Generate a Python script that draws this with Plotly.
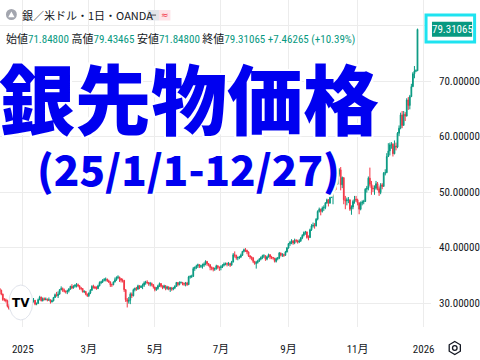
import pandas as pd
import plotly.graph_objects as go

# ---------------- data (XAGUSD daily, OANDA) ----------------
dates = pd.bdate_range("2024-12-11", "2025-12-26")
first_open = 32.6
close = [
    32.3, 31.6, 30.6,
    30.6, 30.4, 29.4, 29.0, 29.5,
    29.7, 29.6, 29.6, 30.0, 29.4,
    29.0, 28.9, 29.3, 29.9, 29.7,
    30.0, 30.1, 29.9, 30.2, 30.5,
    29.8, 29.9, 30.6, 31.1, 30.4,
    30.8, 30.6, 30.7, 30.5, 30.6,
    30.2, 30.4, 31.0, 31.5, 31.3,
    31.6, 32.4, 32.6, 32.3, 32.1,
    32.0, 32.2, 32.5, 33.0, 32.7,
    33.0, 33.2, 33.3, 33.1, 32.7,
    32.6, 32.0, 32.1, 31.6, 31.3,
    31.8, 32.3, 33.0, 32.9, 32.7,
    32.6, 33.1, 33.7, 33.8, 34.1,
    34.2, 34.3, 34.0, 33.8, 33.3,
    33.3, 33.8, 34.2, 34.6, 34.7,
    34.4, 34.1, 34.1, 32.4, 30.6,
    30.3, 30.5, 31.6, 31.3, 32.4,
    32.6, 32.5, 33.1, 32.8, 33.0,
    33.2, 33.6, 33.8, 33.7, 33.4,
    33.5, 33.3, 32.9, 32.4, 32.6,
    33.1, 33.5, 33.0, 32.8, 33.1,
    32.6, 32.9, 32.5, 32.7, 32.5,
    32.7, 33.0, 33.7, 33.3, 33.7,
    33.7, 33.5, 33.4, 33.6, 33.3,
    34.7, 34.8, 34.8, 36.2, 36.4,
    36.7, 36.9, 36.6, 36.7, 36.8,
    37.0, 37.5, 37.1, 36.9, 36.4,
    36.3, 36.1, 36.2, 36.7, 36.4,
    36.4, 36.5, 36.8, 37.0, 37.1,
    37.0, 37.1, 36.8, 37.4, 38.7,
    38.6, 38.1, 38.2, 38.3, 38.6,
    39.3, 39.6, 39.5, 39.2, 38.5,
    38.3, 38.1, 37.5, 37.1, 37.3,
    37.6, 37.9, 38.2, 38.5, 38.5,
    37.9, 38.3, 38.7, 38.3, 38.2,
    38.1, 37.5, 38.0, 38.1, 39.0,
    38.6, 38.7, 38.6, 39.2, 39.9,
    40.7, 40.9, 41.2, 40.8, 41.3,
    41.2, 41.0, 41.2, 41.7, 42.2,
    42.7, 42.8, 41.8, 41.8, 43.2,
    43.9, 44.0, 43.9, 45.1, 46.5,
    46.9, 46.5, 47.1, 47.2, 48.0,
    48.6, 48.0, 49.0, 49.8, 50.2,
    52.0, 51.4, 53.2, 54.0, 51.3,
    52.6, 48.6, 48.4, 48.6, 48.6,
    46.9, 47.3, 48.3, 48.7, 48.6,
    48.0, 46.9, 48.0, 48.2, 48.3,
    50.5, 50.7, 52.5, 51.4, 50.7,
    50.6, 50.7, 51.5, 50.6, 49.9,
    51.3, 51.0, 53.4, 53.5, 56.4,
    57.4, 58.5, 58.6, 56.9, 58.3,
    58.1, 60.6, 61.5, 63.9, 62.0,
    64.0, 63.7, 66.6, 65.6, 67.2,
    69.0, 71.3, 71.8, 71.848, 79.31065,
]
high = [
    32.7, 32.4, 31.7,
    30.9, 30.8, 30.6, 29.8, 29.7,
    30.2, 29.9, 29.7, 30.2, 30.1,
    29.5, 29.2, 29.5, 30.1, 30.2,
    30.3, 30.4, 30.3, 30.4, 30.9,
    30.5, 30.1, 30.8, 31.3, 31.1,
    31.0, 31.0, 31.0, 30.8, 31.0,
    30.6, 30.6, 31.1, 31.7, 32.0,
    32.1, 32.5, 33.0, 32.8, 32.6,
    32.3, 32.4, 32.7, 33.1, 33.4,
    33.2, 33.4, 33.6, 33.5, 33.2,
    32.9, 32.7, 32.3, 32.1, 31.7,
    31.9, 32.5, 33.2, 33.3, 33.1,
    33.0, 33.3, 33.9, 34.0, 34.3,
    34.5, 34.6, 34.4, 34.2, 33.9,
    33.5, 33.9, 34.6, 34.8, 35.0,
    34.7, 34.5, 34.4, 34.1, 32.5,
    30.9, 31.1, 31.9, 31.9, 32.6,
    32.8, 32.9, 33.3, 33.2, 33.2,
    33.5, 33.9, 34.0, 34.1, 33.8,
    33.8, 33.7, 33.4, 32.9, 32.9,
    33.3, 33.7, 33.6, 33.2, 33.3,
    33.2, 33.1, 33.0, 32.9, 32.9,
    32.9, 33.2, 33.8, 33.7, 33.9,
    33.9, 33.8, 33.7, 33.8, 33.8,
    34.9, 35.0, 35.1, 36.5, 36.6,
    36.9, 37.1, 37.0, 36.9, 37.1,
    37.3, 37.7, 37.5, 37.2, 37.0,
    36.6, 36.5, 36.4, 36.9, 36.8,
    36.6, 36.8, 37.0, 37.3, 37.3,
    37.3, 37.4, 37.2, 37.6, 39.0,
    39.3, 38.7, 38.4, 38.5, 38.9,
    39.4, 39.8, 39.9, 39.6, 39.3,
    38.6, 38.4, 38.3, 37.6, 37.6,
    37.8, 38.1, 38.4, 38.7, 38.8,
    38.6, 38.5, 38.9, 38.8, 38.5,
    38.3, 38.1, 38.2, 38.3, 39.2,
    39.1, 39.0, 38.9, 39.4, 40.1,
    40.8, 41.2, 41.5, 41.3, 41.6,
    41.5, 41.4, 41.5, 41.9, 42.4,
    42.9, 43.0, 42.9, 42.2, 43.4,
    44.2, 44.5, 44.4, 45.3, 46.7,
    47.2, 47.0, 47.4, 47.6, 48.2,
    48.8, 48.7, 49.2, 51.2, 51.0,
    52.3, 53.6, 53.5, 54.3, 54.5,
    52.8, 52.6, 49.3, 49.0, 49.1,
    48.5, 47.6, 48.6, 49.3, 49.3,
    48.8, 48.2, 48.3, 48.5, 48.6,
    50.7, 51.1, 52.8, 54.4, 52.0,
    51.2, 51.2, 52.0, 51.8, 51.0,
    51.6, 51.6, 53.6, 54.1, 57.0,
    58.8, 58.9, 59.0, 58.8, 59.3,
    58.9, 60.8, 62.0, 64.3, 64.6,
    64.6, 64.4, 66.9, 67.1, 67.5,
    69.5, 71.6, 72.7, 72.1, 79.43465,
]
low = [
    32.0, 31.4, 30.4,
    30.3, 30.1, 29.2, 28.8, 28.6,
    29.4, 29.4, 29.5, 29.5, 29.3,
    28.8, 28.7, 28.9, 29.2, 29.6,
    29.6, 29.8, 29.7, 29.9, 30.1,
    29.6, 29.6, 29.9, 30.5, 30.3,
    30.3, 30.5, 30.5, 30.3, 30.4,
    29.9, 30.1, 30.3, 30.9, 31.2,
    30.9, 31.5, 32.3, 32.0, 31.9,
    31.7, 31.6, 31.9, 32.4, 32.5,
    32.6, 32.8, 32.8, 32.9, 32.4,
    32.3, 31.9, 31.8, 31.4, 31.1,
    31.1, 31.6, 32.2, 32.6, 32.5,
    32.4, 32.5, 33.0, 33.4, 33.6,
    33.9, 33.9, 33.8, 33.6, 32.9,
    32.9, 33.2, 33.7, 34.0, 34.3,
    33.8, 33.7, 33.7, 32.0, 30.2,
    29.2, 29.9, 29.8, 30.9, 31.2,
    32.1, 32.2, 32.4, 32.5, 32.7,
    32.5, 32.9, 33.3, 33.4, 33.1,
    33.0, 33.0, 32.6, 32.1, 32.2,
    32.4, 32.9, 32.8, 32.5, 32.6,
    32.3, 32.4, 32.3, 32.0, 32.2,
    32.3, 32.5, 32.9, 33.0, 33.2,
    33.5, 33.2, 33.1, 33.0, 33.1,
    33.3, 34.4, 34.5, 34.7, 35.8,
    36.1, 36.3, 36.3, 36.3, 36.2,
    36.5, 36.8, 36.7, 36.6, 35.9,
    35.9, 35.7, 35.8, 36.0, 36.1,
    35.8, 35.9, 36.3, 36.6, 36.8,
    36.6, 36.7, 36.5, 36.8, 37.3,
    38.2, 37.8, 37.7, 37.9, 38.1,
    38.5, 39.1, 39.2, 38.8, 38.3,
    37.9, 37.7, 37.2, 36.9, 36.2,
    37.1, 37.4, 37.7, 37.9, 38.1,
    37.6, 37.7, 38.2, 37.9, 37.9,
    37.8, 37.3, 37.3, 37.7, 37.9,
    38.4, 38.3, 38.3, 38.5, 39.1,
    39.8, 40.3, 40.6, 40.5, 40.6,
    40.9, 40.7, 40.8, 41.0, 41.5,
    42.0, 42.3, 41.6, 41.3, 41.7,
    43.0, 43.6, 43.4, 43.8, 44.9,
    46.3, 45.8, 46.3, 46.6, 46.9,
    47.9, 47.4, 47.9, 49.0, 47.8,
    50.0, 50.4, 51.3, 52.8, 50.3,
    50.7, 47.8, 46.9, 47.6, 48.0,
    46.6, 45.9, 46.9, 47.9, 48.2,
    47.6, 46.0, 46.7, 47.6, 47.8,
    48.2, 49.9, 50.3, 51.0, 49.5,
    50.0, 49.5, 50.4, 50.3, 49.3,
    49.6, 50.5, 51.0, 53.0, 53.4,
    56.3, 56.6, 57.8, 56.4, 56.8,
    57.5, 57.9, 60.1, 61.3, 61.5,
    62.0, 62.8, 63.6, 64.8, 64.9,
    67.1, 68.9, 70.5, 71.6, 71.848,
]
open_ = [first_open] + close[:-1]

x_tickvals = ["2025-01-01", "2025-03-03", "2025-05-01", "2025-07-01",
              "2025-09-01", "2025-11-03", "2026-01-01"]
x_ticktext = ["2025", "3月", "5月", "7月", "9月", "11月", "2026"]
y_tickvals = [30, 40, 50, 60, 70, 80]
y_ticktext = ["30.00000", "40.00000", "50.00000", "60.00000", "70.00000", ""]

title_text = "銀先物価格"
period_text = "(25/1/1-12/27)"
symbol_text = "銀／米ドル・1日・OANDA"

# ---------------- styling ----------------
UP = "#089981"
DOWN = "#f23645"
GRID = "#ececec"
TXT = "#131722"
BLUE = "#0000f0"
NARROW = "Liberation Sans Narrow, Arial Narrow, Roboto Condensed, Liberation Sans, Noto Sans CJK JP, sans-serif"
JP = "Noto Sans CJK JP, Noto Sans, sans-serif"

PW, PH = 435.0, 327.0


def X(px):
    return px / PW


def Y(py):
    return 1 - py / PH


fig = go.Figure(go.Candlestick(
    x=dates, open=open_, high=high, low=low, close=close,
    increasing=dict(line=dict(color=UP, width=1), fillcolor=UP),
    decreasing=dict(line=dict(color=DOWN, width=1), fillcolor=DOWN),
    whiskerwidth=0, showlegend=False, hoverinfo="skip",
))

fig.update_layout(
    width=480, height=360,
    margin=dict(l=0, r=45, t=0, b=33),
    paper_bgcolor="white", plot_bgcolor="white",
    showlegend=False,
    xaxis=dict(
        type="date",
        rangebreaks=[dict(bounds=["sat", "mon"])],
        range=["2024-12-11 04:00", "2026-01-07 19:00"],
        rangeslider=dict(visible=False),
        tickmode="array", tickvals=x_tickvals, ticktext=x_ticktext,
        showgrid=True, gridcolor=GRID, gridwidth=1,
        zeroline=False, showline=False, ticks="",
        tickfont=dict(family=NARROW, size=11, color=TXT),
        ticklabelstandoff=14,
    ),
    yaxis=dict(
        side="right",
        range=[25.68, 84.6],
        tickmode="array", tickvals=y_tickvals, ticktext=y_ticktext,
        showgrid=True, gridcolor=GRID, gridwidth=1,
        zeroline=False, showline=False, ticks="",
        tickfont=dict(family=NARROW, size=11, color=TXT),
        ticklabelstandoff=7,
    ),
)

shapes = []
annotations = []

# header: symbol icon
shapes.append(dict(type="circle", xref="paper", yref="paper",
                   x0=X(6), x1=X(17), y0=Y(20), y1=Y(9),
                   fillcolor="#a3a6af", line=dict(width=0), layer="above"))
shapes.append(dict(type="path", xref="paper", yref="paper",
                   path=f"M {X(8.3)} {Y(17.2)} L {X(11.5)} {Y(11.5)} L {X(14.7)} {Y(17.2)} Z",
                   fillcolor="white", line=dict(width=0), layer="above"))
annotations.append(dict(text=symbol_text, xref="paper", yref="paper",
                        x=X(20), y=Y(15), xanchor="left", yanchor="middle",
                        showarrow=False, font=dict(family=JP, size=11, color=TXT)))
# header pills
shapes.append(dict(type="rect", xref="paper", yref="paper",
                   x0=X(149), x1=X(160.5), y0=Y(20.5), y1=Y(10),
                   fillcolor="#e3e5ea", line=dict(width=0), layer="above"))
shapes.append(dict(type="rect", xref="paper", yref="paper",
                   x0=X(152), x1=X(157.5), y0=Y(16), y1=Y(14.3),
                   fillcolor="#8a8e97", line=dict(width=0), layer="above"))
shapes.append(dict(type="rect", xref="paper", yref="paper",
                   x0=X(160.5), x1=X(172), y0=Y(20.5), y1=Y(10),
                   fillcolor="#fde3e7", line=dict(width=0), layer="above"))
annotations.append(dict(text="≈", xref="paper", yref="paper",
                        x=X(166.2), y=Y(15), xanchor="center", yanchor="middle",
                        showarrow=False, font=dict(family="DejaVu Sans", size=9, color=DOWN)))

# OHLC line
o, h, l, c = open_[-1], high[-1], low[-1], close[-1]
chg = c - close[-2]
pct = chg / close[-2] * 100


def val(v):
    return f'<span style="color:{UP}">{v}</span>'


ohlc = (f"始値{val(f'{o:.5f}')} 高値{val(f'{h:.5f}')} 安値{val(f'{l:.5f}')} "
        f"終値{val(f'{c:.5f}')} {val(f'{chg:+.5f} ({pct:+.2f}%)')}")
annotations.append(dict(text=ohlc, xref="paper", yref="paper",
                        x=X(4), y=Y(38.5), xanchor="left", yanchor="middle",
                        showarrow=False, font=dict(family=NARROW, size=11, color=TXT)))

# big title overlays
outline = ("2px 2px 0 #fff, -2px 2px 0 #fff, 2px -2px 0 #fff, -2px -2px 0 #fff, "
           "0 2px 0 #fff, 0 -2px 0 #fff, 2px 0 0 #fff, -2px 0 0 #fff")
annotations.append(dict(text=title_text, xref="paper", yref="paper",
                        x=X(191), y=Y(96), xanchor="center", yanchor="middle",
                        showarrow=False,
                        font=dict(family=JP, size=76, color=BLUE, weight=900, shadow=outline)))
annotations.append(dict(text=period_text, xref="paper", yref="paper",
                        x=X(190), y=Y(167), xanchor="center", yanchor="middle",
                        showarrow=False,
                        font=dict(family=JP, size=42, color=BLUE, weight=900, shadow=outline)))

# last price label
shapes.append(dict(type="rect", xref="paper", yref="y",
                   x0=X(430), x1=X(479), y0=c - 2.3, y1=c + 2.6,
                   fillcolor="white", line=dict(color="#1ee3f0", width=3), layer="above"))
shapes.append(dict(type="rect", xref="paper", yref="y",
                   x0=X(436), x1=X(476.5), y0=c - 1.35, y1=c + 1.35,
                   fillcolor=UP, line=dict(width=0), layer="above"))
annotations.append(dict(text=f"{c:.5f}", xref="paper", yref="y",
                        x=X(456.3), y=c, xanchor="center", yanchor="middle",
                        showarrow=False, font=dict(family=NARROW, size=11, color="white")))

# TradingView logo
shapes.append(dict(type="circle", xref="paper", yref="paper",
                   x0=X(9), x1=X(33), y0=Y(320), y1=Y(285),
                   fillcolor="white", line=dict(color="#e0e3eb", width=1), layer="above"))
annotations.append(dict(text="<b>TV</b>", xref="paper", yref="paper",
                        x=X(21), y=Y(302.5), xanchor="center", yanchor="middle",
                        showarrow=False, font=dict(family="DejaVu Sans", size=12, color="#000000")))

# settings hexagon (bottom right)
cx, cy, r = 459.0, 348.0, 6.5
hexpts = [(cx, cy - r), (cx + 0.866 * r, cy - r / 2), (cx + 0.866 * r, cy + r / 2),
          (cx, cy + r), (cx - 0.866 * r, cy + r / 2), (cx - 0.866 * r, cy - r / 2)]
path = "M " + " L ".join(f"{X(px)} {Y(py)}" for px, py in hexpts) + " Z"
shapes.append(dict(type="path", xref="paper", yref="paper", path=path,
                   line=dict(color=TXT, width=1.3), fillcolor="rgba(0,0,0,0)", layer="above"))
shapes.append(dict(type="circle", xref="paper", yref="paper",
                   x0=X(cx - 2.3), x1=X(cx + 2.3), y0=Y(cy + 2.3), y1=Y(cy - 2.3),
                   line=dict(color=TXT, width=1.3), fillcolor="rgba(0,0,0,0)", layer="above"))

fig.update_layout(shapes=shapes, annotations=annotations)

fig.write_html("out.html", config={"displayModeBar": False},
               post_script="document.body.style.margin='0px';")
